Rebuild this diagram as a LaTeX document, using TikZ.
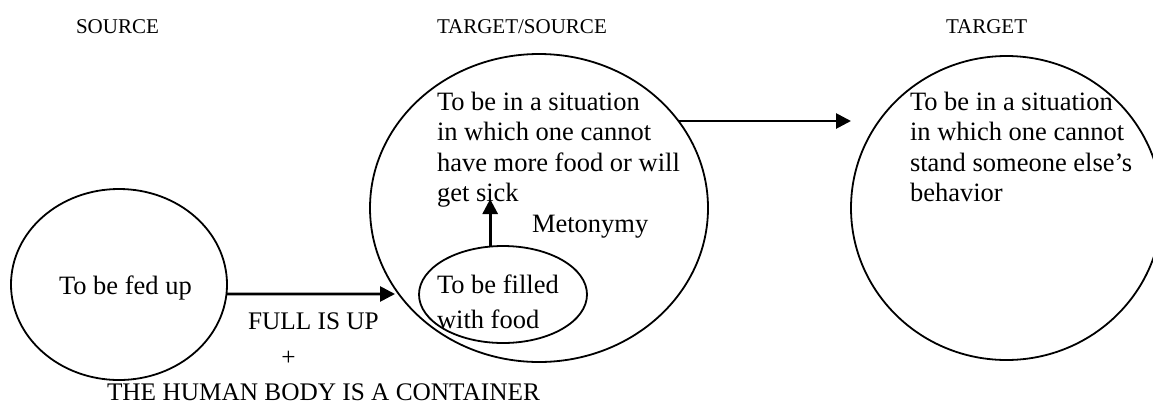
\documentclass[tikz,border=0pt]{standalone}
\usepackage{fontspec}
\setmainfont{Liberation Serif}
\usetikzlibrary{shapes.geometric,arrows.meta}
\newcommand\bodyfnt{\fontsize{26.5}{30.6}\selectfont}
\newcommand\labfnt{\fontsize{25.3}{30}\selectfont}
\newcommand\headfnt{\fontsize{21}{25}\selectfont}
\tikzset{
  oval/.style={ellipse, draw, line width=1.8pt, inner sep=0pt, outer sep=0pt},
  arr/.style={line width=2.7pt, -{Triangle[length=15pt,width=15pt]}},
  txt/.style={inner sep=0pt, outer sep=0pt, anchor=base west, font=\bodyfnt},
  lab/.style={inner sep=0pt, outer sep=0pt, anchor=base west, font=\labfnt},
  head/.style={inner sep=0pt, outer sep=0pt, anchor=base west, font=\headfnt}
}
\begin{document}
\begin{tikzpicture}[x=1pt,y=-1pt]
\fill[white] (0,0) rectangle (1153,405);
\useasboundingbox (0,0) rectangle (1153,405);
% headers
\node[head] (hsrc) at (76,33) {SOURCE};
\node[head] (hts) at (437,33) {TARGET/SOURCE};
\node[head] (htg) at (946,33) {TARGET};
% ellipses
\node[oval, minimum width=216pt, minimum height=191pt] (src) at (119,284.5) {};
\node[oval, minimum width=338pt, minimum height=308pt] (mid) at (539,208) {};
\node[oval, minimum width=168pt, minimum height=97pt] (inner) at (503,294.5) {};
\node[oval, minimum width=311pt, minimum height=304pt] (tgt) at (1006.5,208) {};
% texts
\node[txt] (tfed) at (59,294) {To be fed up};
\node[txt] (tmid) at (437,110) {\parbox[t]{300pt}{\bodyfnt\raggedright To be in a situation\\ in which one cannot\\ have more food or will\\ get sick}};
\node[txt] (ttgt) at (910,110) {\parbox[t]{300pt}{\bodyfnt\raggedright To be in a situation\\ in which one cannot\\ stand someone else’s\\ behavior}};
\node[txt] (tinner) at (437,293) {\parbox[t]{200pt}{\fontsize{26.5}{35}\selectfont\raggedright To be filled\\ with food}};
\node[txt] (tmet) at (532,232) {Metonymy};
\node[lab] (tfull) at (248,329) {FULL IS UP};
\node[lab, anchor=base] (tplus) at (288.5,365.5) {+};
\node[lab] (tbody) at (107,400.5) {THE HUMAN BODY IS A CONTAINER};
% connectors
\coordinate (a1) at (395,294);
\coordinate (a2) at (851,121);
\coordinate (a2s) at (679,121);
\coordinate (mtip) at (490.7,199);
\draw[arr] (src.-5) -- (a1);
\draw[arr] (a2s) -- (a2);
\draw[arr] (inner.105) -- (inner.105 |- mtip);
\end{tikzpicture}
\end{document}
